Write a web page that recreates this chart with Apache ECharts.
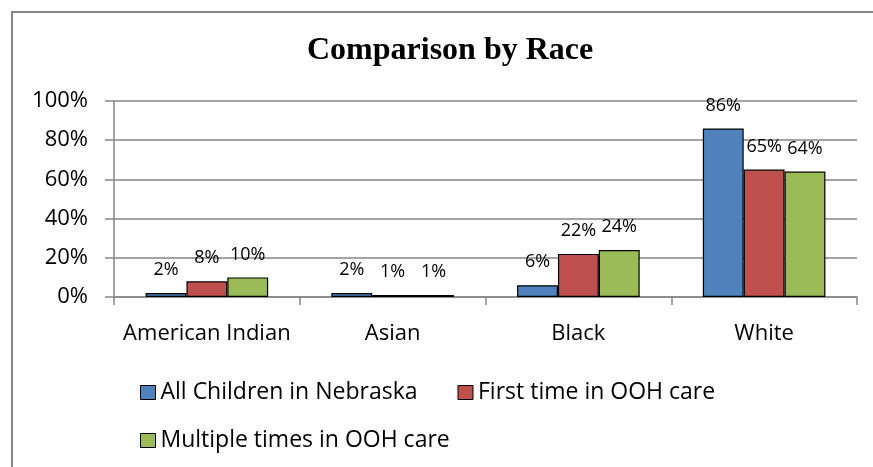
<!DOCTYPE html>
<html>
<head>
<meta charset="utf-8">
<script src="https://cdn.jsdelivr.net/npm/echarts@6/dist/echarts.min.js"></script>
<style>html,body{margin:0;padding:0;background:#fff;overflow:hidden;}#c{width:873px;height:467px;}</style>
</head>
<body>
<div id="c"></div>
<script>
const categories = ['American Indian', 'Asian', 'Black', 'White'];
const seriesNames = ['All Children in Nebraska', 'First time in OOH care', 'Multiple times in OOH care'];
const allChildren = [2, 2, 6, 86];
const firstTime = [8, 1, 22, 65];
const multipleTimes = [10, 1, 24, 64];
const yTicks = [0, 20, 40, 60, 80, 100];
const colors = ['#4F81BD', '#C0504D', '#9BBB59'];

const FONT = '"Open Sans", sans-serif';
const seriesData = [allChildren, firstTime, multipleTimes];

const chart = echarts.init(document.getElementById('c'), null, {renderer: 'canvas'});
chart.setOption({
  animation: false,
  backgroundColor: '#fff',
  title: {
    text: 'Comparison by Race',
    left: 302,
    top: 30,
    textStyle: {fontFamily: '"Liberation Serif", "Times New Roman", serif', fontWeight: 'bold', fontSize: 32, color: '#000'}
  },
  graphic: [{
    type: 'polyline',
    shape: {points: [[12, 480], [12, 12], [880, 12]]},
    style: {fill: 'none', stroke: '#868686', lineWidth: 2},
    silent: true
  }],
  legend: [{
    data: seriesNames.slice(0, 2),
    left: 135, top: 376,
    itemWidth: 15, itemHeight: 14, itemGap: 40,
    icon: 'rect',
    itemStyle: {borderColor: '#000', borderWidth: 1},
    textStyle: {fontFamily: FONT, fontSize: 23, color: '#000'}
  }, {
    data: [seriesNames[2]],
    left: 135, top: 424,
    itemWidth: 15, itemHeight: 14,
    icon: 'rect',
    itemStyle: {borderColor: '#000', borderWidth: 1},
    textStyle: {fontFamily: FONT, fontSize: 23, color: '#000'}
  }],
  grid: {left: 114, right: 16, top: 101, bottom: 170, containLabel: false},
  xAxis: {
    type: 'category',
    data: categories,
    axisLine: {show: true, lineStyle: {color: '#868686', width: 1.5}},
    axisTick: {show: true, length: 8, interval: 0, alignWithLabel: false, lineStyle: {color: '#868686', width: 1.5}},
    axisLabel: {fontFamily: FONT, fontSize: 22, color: '#000', margin: 26, interval: 0}
  },
  yAxis: {
    type: 'value',
    min: 0, max: 100, interval: 20,
    axisLine: {show: true, lineStyle: {color: '#868686', width: 1.5}},
    axisTick: {show: true, length: 9, lineStyle: {color: '#868686', width: 1.5}},
    splitLine: {show: true, lineStyle: {color: '#868686', width: 1.5}},
    axisLabel: {fontFamily: FONT, fontSize: 22, color: '#000', margin: 26, formatter: v => yTicks.includes(v) ? v + '%' : ''}
  },
  series: seriesNames.map((name, i) => ({
    name: name,
    type: 'bar',
    data: seriesData[i],
    barGap: '0%',
    barCategoryGap: '34%',
    itemStyle: {color: colors[i], borderColor: '#000', borderWidth: 1.2},
    label: {
      show: true, position: 'top', distance: 14,
      formatter: p => p.value + '%',
      fontFamily: FONT, fontSize: 18, color: '#000'
    }
  }))
});
</script>
</body>
</html>
